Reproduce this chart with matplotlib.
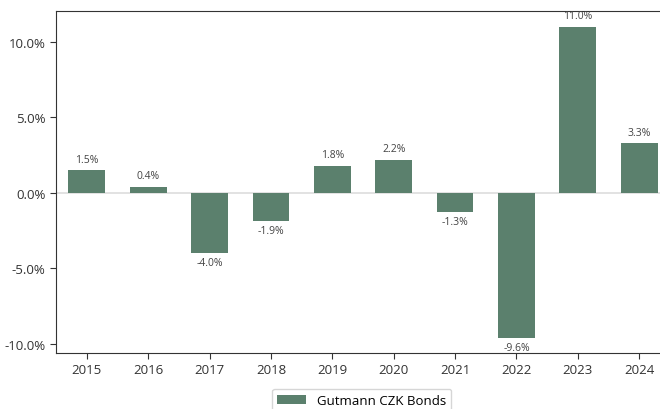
import numpy as np
import matplotlib.pyplot as plt
from matplotlib.ticker import FuncFormatter

years = ['2015', '2016', '2017', '2018', '2019', '2020', '2021', '2022', '2023', '2024']
returns = [1.5, 0.4, -4.0, -1.9, 1.8, 2.2, -1.3, -9.6, 11.0, 3.3]
label = 'Gutmann CZK Bonds'

plt.rcParams['font.family'] = ['Open Sans', 'DejaVu Sans']

fig = plt.figure(figsize=(6.6, 4.1), dpi=100)
ax = fig.add_axes([0.085, 0.137, 0.93, 0.834])

x = np.arange(len(years))
bars = ax.bar(x, returns, width=0.6, color='#5b806d', label=label, zorder=2)
ax.axhline(0, color='#dddddd', lw=1.2, zorder=1)

for xi, v in zip(x, returns):
    if v >= 0:
        ax.text(xi, v + 0.35, f'{v:.1f}%', ha='center', va='bottom', fontsize=7.5, color='#444444')
    else:
        ax.text(xi, v - 0.25, f'{v:.1f}%', ha='center', va='top', fontsize=7.5, color='#444444')

ax.set_xticks(x)
ax.set_xticklabels(years)
ax.set_yticks([-10, -5, 0, 5, 10])
ax.yaxis.set_major_formatter(FuncFormatter(lambda v, p: f'{v:.1f}%'))
ax.set_xlim(-0.5, 9.5)
ax.set_ylim(-10.6, 12.05)
ax.tick_params(axis='both', labelsize=9.5, colors='#333333', length=4)
for s in ax.spines.values():
    s.set_color('#333333')
ax.spines['right'].set_visible(False)

fig.legend(loc='upper center', bbox_to_anchor=(0.548, 0.066), fontsize=9.5,
           frameon=True, edgecolor='#cccccc', fancybox=True, handlelength=2.2)

fig.savefig('out.png', dpi=100)
